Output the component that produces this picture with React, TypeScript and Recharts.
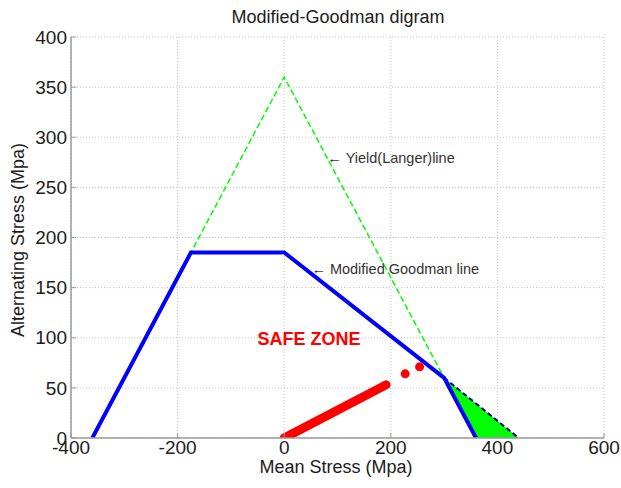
import React from 'react';
import {
    ComposedChart,
    Line,
    Area,
    Scatter,
    XAxis,
    YAxis,
    CartesianGrid,
    ReferenceDot,
} from 'recharts';

// axis ticks
const xTicks = [-400, -200, 0, 200, 400, 600];
const yTicks = [0, 50, 100, 150, 200, 250, 300, 350, 400];

// Yield (Langer) line
const yieldLine = [
    { x: -360, y: 0 },
    { x: 0, y: 360 },
    { x: 360, y: 0 },
];

// Modified Goodman line (clipped by yield line)
const goodmanLine = [
    { x: -360, y: 0 },
    { x: -175, y: 185 },
    { x: 0, y: 185 },
    { x: 300, y: 60 },
    { x: 360, y: 0 },
];

// Goodman line beyond the yield intersection
const goodmanTail = [
    { x: 300, y: 60 },
    { x: 440, y: 0 },
];

// green region between yield line and Goodman tail
const failZone = [
    { x: 300, range: [60, 60] },
    { x: 360, range: [0, 34.3] },
    { x: 440, range: [0, 0] },
];

// operating stress points
const loadLine = [
    { x: 0, y: 0 },
    { x: 191, y: 53 },
];
const loadDots = [
    { x: 227, y: 64 },
    { x: 254, y: 71 },
];

const FONT = '"Liberation Sans", Arial, sans-serif';
const textColor = '#1c1c1c';

export default function App() {
    return (
        <div style={{ position: 'absolute', left: 0, top: 0, width: 621, height: 488, background: '#fff', fontFamily: FONT }}>
            <div style={{ position: 'absolute', top: 7, left: 0, width: 676, textAlign: 'center', fontSize: 18, color: textColor }}>
                Modified-Goodman digram
            </div>
            <div style={{ position: 'absolute', top: 457, left: 0, width: 672, textAlign: 'center', fontSize: 18, color: textColor }}>
                Mean Stress (Mpa)
            </div>
            <div
                style={{
                    position: 'absolute',
                    left: 18,
                    top: 240,
                    transform: 'translate(-50%, -50%) rotate(-90deg)',
                    whiteSpace: 'nowrap',
                    fontSize: 18,
                    color: textColor,
                }}
            >
                Alternating Stress (Mpa)
            </div>
            <ComposedChart
                width={621}
                height={488}
                margin={{ top: 37, right: 17, left: 0, bottom: 0 }}
                style={{ position: 'absolute', left: 0, top: 0 }}
            >
                <CartesianGrid stroke="#c4c4c4" strokeDasharray="1 2" />
                <XAxis
                    dataKey="x"
                    type="number"
                    domain={[-400, 600]}
                    ticks={xTicks}
                    allowDataOverflow
                    height={50}
                    tickSize={-5}
                    tickMargin={8}
                    axisLine={{ stroke: '#9a9a9a', strokeWidth: 1.5 }}
                    tickLine={{ stroke: '#9a9a9a' }}
                    tick={{ fill: textColor, fontSize: 19, fontFamily: FONT }}
                />
                <YAxis
                    type="number"
                    domain={[0, 400]}
                    ticks={yTicks}
                    allowDataOverflow
                    width={71}
                    tickSize={-5}
                    tickMargin={9}
                    axisLine={{ stroke: '#9a9a9a', strokeWidth: 1.5 }}
                    tickLine={{ stroke: '#9a9a9a' }}
                    tick={{ fill: textColor, fontSize: 19, fontFamily: FONT }}
                />
                <Area
                    data={failZone}
                    dataKey="range"
                    type="linear"
                    fill="#00ff00"
                    fillOpacity={1}
                    stroke="none"
                    isAnimationActive={false}
                />
                <Line
                    data={yieldLine}
                    dataKey="y"
                    type="linear"
                    stroke="#00ff00"
                    strokeWidth={1.5}
                    strokeDasharray="6 3"
                    dot={false}
                    isAnimationActive={false}
                />
                <Line
                    data={goodmanTail}
                    dataKey="y"
                    type="linear"
                    stroke="#00008b"
                    strokeWidth={2}
                    strokeDasharray="5 3"
                    dot={false}
                    isAnimationActive={false}
                />
                <Line
                    data={goodmanLine}
                    dataKey="y"
                    type="linear"
                    stroke="#0000ff"
                    strokeWidth={4}
                    dot={false}
                    isAnimationActive={false}
                />
                <Line
                    data={loadLine}
                    dataKey="y"
                    type="linear"
                    stroke="#ff0000"
                    strokeWidth={9}
                    strokeLinecap="round"
                    dot={false}
                    isAnimationActive={false}
                />
                <Scatter
                    data={loadDots}
                    dataKey="y"
                    fill="#ff0000"
                    shape="circle"
                    isAnimationActive={false}
                />
                <ReferenceDot
                    x={81}
                    y={279}
                    r={0}
                    stroke="none"
                    fill="none"
                    label={{ value: '\u2190 Yield(Langer)line', position: 'right', offset: 0, fill: '#333', fontSize: 14.5, fontFamily: FONT }}
                />
                <ReferenceDot
                    x={51}
                    y={169}
                    r={0}
                    stroke="none"
                    fill="none"
                    label={{ value: '\u2190 Modified Goodman line', position: 'right', offset: 0, fill: '#333', fontSize: 14.5, fontFamily: FONT }}
                />
                <ReferenceDot
                    x={-50}
                    y={99}
                    r={0}
                    stroke="none"
                    fill="none"
                    label={{ value: 'SAFE ZONE', position: 'right', offset: 0, fill: '#ff0000', fontSize: 18, fontWeight: 'bold', fontFamily: FONT }}
                />
            </ComposedChart>
        </div>
    );
}
